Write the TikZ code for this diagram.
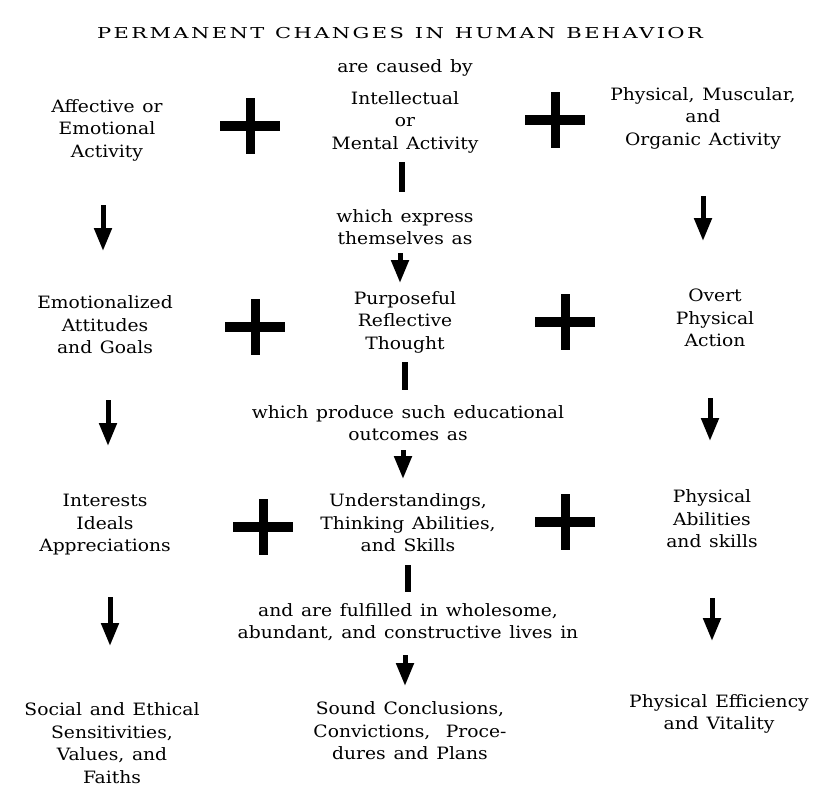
\documentclass[tikz,border=0pt]{standalone}
\usepackage{fontspec}
\setmainfont{DejaVu Serif}[FakeStretch=1.1, WordSpace=1.3]
\newfontfamily\titlefont{DejaVu Serif}[FakeStretch=1.4, LetterSpace=16, WordSpace=1.2]
\usetikzlibrary{arrows.meta}
\tikzset{
  lbl/.style={align=center, font=\fontsize{17}{22.5}\selectfont, inner sep=0pt},
  arr/.style={line width=5pt, -{Triangle[width=17pt,length=23pt]}},
  bar/.style={line width=6.5pt},
  plus/.pic={\fill (-30,-5) rectangle (30,5); \fill (-4.5,-28) rectangle (4.5,28);}
}
\begin{document}
\begin{tikzpicture}[x=1pt,y=-1pt]
\useasboundingbox[fill=white] (0,0) rectangle (817,787);
% title
\node[lbl, font=\titlefont\fontsize{15}{16}\selectfont] (title) at (400,33) {PERMANENT CHANGES IN HUMAN BEHAVIOR};
\node[lbl] (caused) at (405,68) {are caused by};
% row 1
\node[lbl] (aff) at (107,130) {Affective or\\Emotional\\Activity};
\node[lbl] (intel) at (405,122) {Intellectual\\or\\Mental Activity};
\node[lbl] (phys) at (703,118) {Physical, Muscular,\\and\\Organic Activity};
\pic at (250,126) {plus};
\pic at (555,120) {plus};
\node[lbl] (express) at (405,227) {which express\\themselves as};
% row 2
\node[lbl] (emo) at (105,325) {Emotionalized\\Attitudes\\and Goals};
\node[lbl] (purp) at (405,322) {Purposeful\\Reflective\\Thought};
\node[lbl] (overt) at (715,318) {Overt\\Physical\\Action};
\pic at (255,327) {plus};
\pic at (565,322) {plus};
\node[lbl] (produce) at (408,423) {which produce such educational\\outcomes as};
% row 3
\node[lbl] (interests) at (105,525) {Interests\\Ideals\\Appreciations};
\node[lbl] (underst) at (408,523) {Understandings,\\Thinking Abilities,\\and Skills};
\node[lbl] (physab) at (712,519) {Physical\\Abilities\\and skills};
\pic at (263,527) {plus};
\pic at (565,522) {plus};
\node[lbl] (fulfilled) at (408,622) {and are fulfilled in wholesome,\\abundant, and constructive lives in};
% row 4
\node[lbl] (social) at (112,743) {Social and Ethical\\Sensitivities,\\Values, and\\Faiths};
\node[lbl] (sound) at (410,731) {Sound Conclusions,\\Convictions,\ \ Proce-\\dures and Plans};
\node[lbl] (physeff) at (719,714) {Physical Efficiency\\and Vitality};
% connector end points
\coordinate (b1a) at (402,162); \coordinate (b1b) at (402,192);
\coordinate (b2a) at (405,362); \coordinate (b2b) at (405,390);
\coordinate (b3a) at (408,565); \coordinate (b3b) at (408,592);
\coordinate (c1a) at (400,253); \coordinate (c1b) at (400,283);
\coordinate (c2a) at (403,450); \coordinate (c2b) at (403,479);
\coordinate (c3a) at (405,655); \coordinate (c3b) at (405,686);
\coordinate (l1a) at (103,205); \coordinate (l1b) at (103,251);
\coordinate (l2a) at (108,400); \coordinate (l2b) at (108,446);
\coordinate (l3a) at (110,597); \coordinate (l3b) at (110,646);
\coordinate (r1a) at (703,196); \coordinate (r1b) at (703,241);
\coordinate (r2a) at (710,398); \coordinate (r2b) at (710,441);
\coordinate (r3a) at (712,598); \coordinate (r3b) at (712,641);
\draw[bar] (b1a) -- (b1b);
\draw[bar] (b2a) -- (b2b);
\draw[bar] (b3a) -- (b3b);
\draw[arr] (c1a) -- (c1b);
\draw[arr] (c2a) -- (c2b);
\draw[arr] (c3a) -- (c3b);
\draw[arr] (l1a) -- (l1b);
\draw[arr] (l2a) -- (l2b);
\draw[arr] (l3a) -- (l3b);
\draw[arr] (r1a) -- (r1b);
\draw[arr] (r2a) -- (r2b);
\draw[arr] (r3a) -- (r3b);
\end{tikzpicture}
\end{document}
